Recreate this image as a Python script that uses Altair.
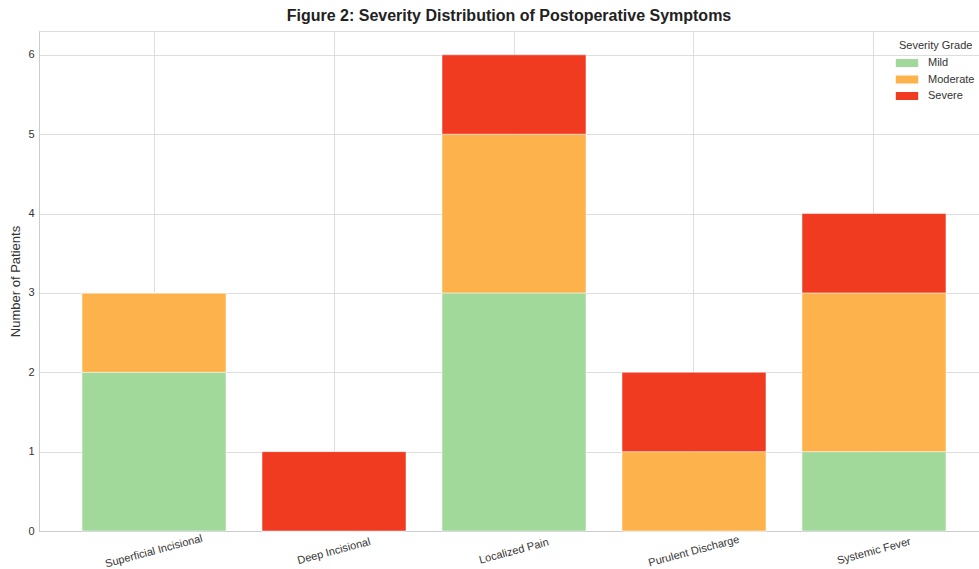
import altair as alt
import pandas as pd

categories = ["Superficial Incisional", "Deep Incisional", "Localized Pain",
              "Purulent Discharge", "Systemic Fever"]
grades = ["Mild", "Moderate", "Severe"]
mild = [2, 0, 3, 0, 1]
moderate = [1, 0, 2, 1, 2]
severe = [0, 1, 1, 1, 1]
colors = ["#a1d99b", "#feb24c", "#f03b20"]

rows = []
for i, c in enumerate(categories):
    for g, vals in zip(grades, [mild, moderate, severe]):
        rows.append({"Symptom": c, "Grade": g, "Count": vals[i],
                     "order": grades.index(g)})
df = pd.DataFrame(rows)

font = "Liberation Sans"

chart = alt.Chart(df).mark_bar(stroke="white", strokeWidth=0.5).encode(
    x=alt.X("Symptom:N", sort=categories, title=None,
            scale=alt.Scale(paddingInner=0.2, paddingOuter=0.239),
            axis=alt.Axis(labelAngle=345, labelAlign="center", labelBaseline="middle",
                          labelPadding=20, tickSize=0, grid=True, bandPosition=0.5,
                          labelFontSize=11, labelColor="#333333", labelFont=font,
                          domainColor="#cccccc", gridColor="#d6d6d6", gridWidth=0.8)),
    y=alt.Y("Count:Q", stack="zero", title="Number of Patients",
            scale=alt.Scale(domain=[0, 6.3], nice=False),
            axis=alt.Axis(values=[0, 1, 2, 3, 4, 5, 6], format="d", tickSize=0,
                          labelPadding=5, labelFontSize=11, labelColor="#333333",
                          labelFont=font, titleFont=font, titleFontSize=13,
                          titleFontWeight="normal", titleColor="#333333",
                          titlePadding=5, domainColor="#cccccc",
                          gridColor="#d6d6d6", gridWidth=0.8)),
    color=alt.Color("Grade:N", sort=grades,
                    scale=alt.Scale(domain=grades, range=colors),
                    legend=alt.Legend(title="Severity Grade", orient="none",
                                      legendX=860, legendY=9,
                                      symbolType="M-1.4,-0.5H1.4V0.5H-1.4Z",
                                      symbolSize=256, symbolStrokeWidth=0,
                                      labelOffset=13, rowPadding=3.5,
                                      labelFontSize=11, labelColor="#333333",
                                      labelFont=font, titleFont=font,
                                      titleFontSize=11, titleFontWeight="normal",
                                      titleColor="#333333", titlePadding=4,
                                      padding=0)),
    order=alt.Order("order:Q"),
).properties(
    width=950, height=500,
    title=alt.TitleParams("Figure 2: Severity Distribution of Postoperative Symptoms",
                          font=font, fontSize=16, fontWeight="bold", color="#222222",
                          anchor="middle", dx=-5, offset=7),
    autosize=alt.AutoSizeParams(type="none"),
    padding={"left": 39, "top": 31, "right": -10, "bottom": 38},
).configure_view(stroke="#cccccc", strokeWidth=1).configure(background="white")

chart.save("out.html", embed_options={"renderer": "svg", "actions": False})
